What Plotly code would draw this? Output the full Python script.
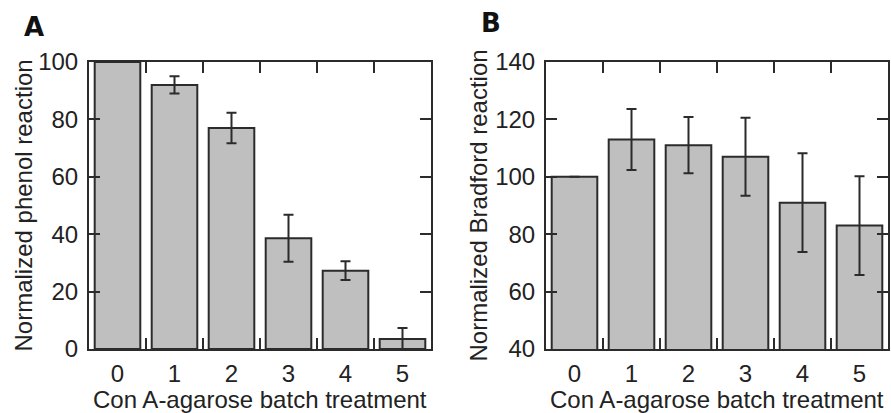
import plotly.graph_objects as go

categories = [0, 1, 2, 3, 4, 5]
tick_labels = ["0", "1", "2", "3", "4", "5"]
phenol_values = [100, 92, 77, 38.6, 27.3, 3.5]
phenol_errors = [None, 3, 5.3, 8.2, 3.3, 3.8]
bradford_values = [100, 113, 111, 107, 91, 83]
bradford_errors = [None, 10.6, 9.8, 13.6, 17.2, 17.2]

W, H = 891, 413
LINE = "#2b2b2b"
FILL = "#bfbfbf"
FONT = "Liberation Sans, Arial, sans-serif"

def px_x(p):
    return p / W

def px_y(p):
    return 1 - p / H

fig = go.Figure()

for vals, errs, xa, ya in [(phenol_values, phenol_errors, "x", "y"),
                           (bradford_values, bradford_errors, "x2", "y2")]:
    fig.add_trace(go.Bar(
        x=categories, y=vals, xaxis=xa, yaxis=ya, width=0.8,
        marker=dict(color=FILL, line=dict(color=LINE, width=2)),
        error_y=dict(type="data", array=errs, visible=True, color=LINE,
                     thickness=2, width=5),
        showlegend=False,
    ))

domA = [px_x(89), px_x(431)]
domB = [px_x(546), px_x(888)]
ydom = [px_y(349), px_y(62)]

xcommon = dict(range=[-0.5, 5.5], tickvals=categories, ticktext=tick_labels,
               ticks="", showline=True, linecolor=LINE, linewidth=2, mirror=True,
               showgrid=False, zeroline=False, automargin=False,
               tickfont=dict(family=FONT, size=24, color="#222"),
               ticklabelstandoff=2)
fig.update_layout(
    xaxis=dict(domain=domA, anchor="y", **xcommon),
    xaxis2=dict(domain=domB, anchor="y2", **xcommon),
)

halfticks = [0.5, 1.5, 2.5, 3.5, 4.5]
tickcommon = dict(range=[-0.5, 5.5], tickvals=halfticks, ticks="inside", ticklen=11,
                  tickwidth=2, tickcolor=LINE, showticklabels=False, showline=False,
                  mirror="ticks", showgrid=False, zeroline=False, automargin=False)
fig.update_layout(
    xaxis3=dict(domain=domA, anchor="y", overlaying="x", **tickcommon),
    xaxis4=dict(domain=domB, anchor="y2", overlaying="x2", **tickcommon),
)
# empty traces so the overlay tick axes are drawn
fig.add_trace(go.Scatter(x=[None], y=[None], xaxis="x3", yaxis="y", showlegend=False))
fig.add_trace(go.Scatter(x=[None], y=[None], xaxis="x4", yaxis="y2", showlegend=False))

ycommon = dict(ticks="inside", ticklen=11, tickwidth=2, tickcolor=LINE,
               showline=True, linecolor=LINE, linewidth=2, mirror="ticks",
               showgrid=False, zeroline=False, automargin=False,
               tickfont=dict(family=FONT, size=24, color="#222"),
               ticklabelstandoff=4)
fig.update_layout(
    yaxis=dict(domain=ydom, anchor="x", range=[0, 100], tickvals=[0, 20, 40, 60, 80, 100], **ycommon),
    yaxis2=dict(domain=ydom, anchor="x2", range=[40, 140], tickvals=[40, 60, 80, 100, 120, 140], **ycommon),
)

annots = [
    dict(text="<b>A</b>", x=px_x(33.5), y=px_y(26.5), font=dict(family="DejaVu Sans", size=26, color="#111")),
    dict(text="<b>B</b>", x=px_x(491), y=px_y(23), font=dict(family="DejaVu Sans", size=26, color="#111")),
    dict(text="Normalized phenol reaction", x=px_x(23), y=(ydom[0] + ydom[1]) / 2, textangle=-90,
         font=dict(family=FONT, size=24, color="#222")),
    dict(text="Normalized Bradford reaction", x=px_x(478), y=(ydom[0] + ydom[1]) / 2, textangle=-90,
         font=dict(family=FONT, size=24, color="#222")),
    dict(text="Con A-agarose batch treatment", x=(domA[0] + domA[1]) / 2, y=px_y(399.5),
         font=dict(family=FONT, size=24, color="#222")),
    dict(text="Con A-agarose batch treatment", x=(domB[0] + domB[1]) / 2, y=px_y(399.5),
         font=dict(family=FONT, size=24, color="#222")),
]
for a in annots:
    a.update(xref="paper", yref="paper", showarrow=False, xanchor="center", yanchor="middle")
fig.update_layout(annotations=annots)

fig.update_layout(width=W, height=H, margin=dict(l=0, r=0, t=0, b=0),
                  paper_bgcolor="white", plot_bgcolor="white", bargap=0.2)

fig.write_html("out.html", config={"displayModeBar": False},
               post_script="document.body.style.margin='0';document.body.style.overflow='hidden';")
